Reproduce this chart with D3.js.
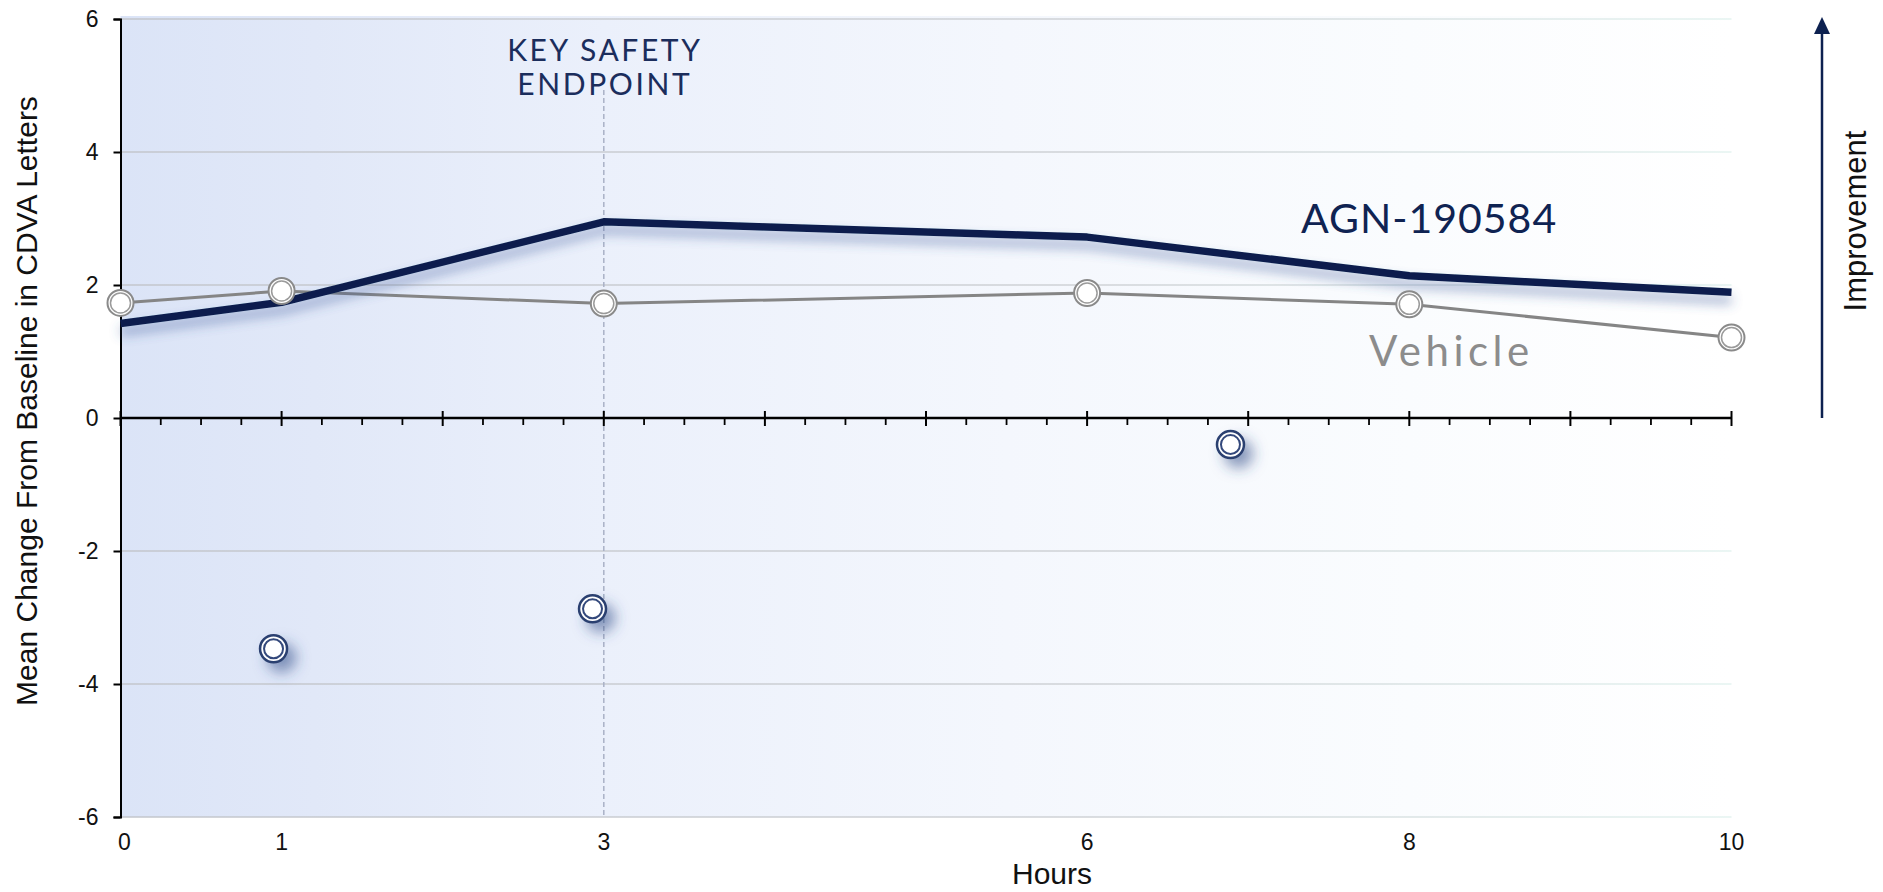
<!DOCTYPE html>
<html>
<head>
<meta charset="utf-8">
<script src="https://cdn.jsdelivr.net/npm/d3@7"></script>
<style>
  html, body { margin: 0; padding: 0; background: #ffffff; }
  svg { display: block; }
  text { font-family: "Liberation Sans", Arial, sans-serif; }
</style>
</head>
<body>
<svg id="chart" width="1883" height="892"></svg>
<script>
// Mean change from baseline in CDVA letters by hour
const hours = [0, 1, 3, 6, 8, 10];
const agnValues = [1.42, 1.74, 2.95, 2.72, 2.14, 1.89];
const vehicleValues = [1.73, 1.91, 1.72, 1.88, 1.71, 1.21];

// isolated points plotted below the baseline
const extraHours = [0.95, 2.93, 6.89];
const extraValues = [-3.47, -2.87, -0.40];

const xTickLabels = [0, 1, 3, 6, 8, 10];
const yTickValues = [-6, -4, -2, 0, 2, 4, 6];
const endpointHour = 3;

const svg = d3.select("#chart");
const defs = svg.append("defs");

const x = d3.scaleLinear().domain([0, 10]).range([120.5, 1731.5]);
const y = d3.scaleLinear().domain([-6, 6]).range([817, 19]);

// plot background gradient
const bg = defs.append("linearGradient").attr("id", "bgGrad")
  .attr("x1", "0%").attr("x2", "100%").attr("y1", "0%").attr("y2", "0%");
[["0%", "#dbe4f7"], ["12%", "#e1e8f8"], ["30%", "#ebf0fb"], ["55%", "#f4f7fd"], ["80%", "#fafcfe"], ["100%", "#ffffff"]]
  .forEach(([o, c]) => bg.append("stop").attr("offset", o).attr("stop-color", c));

const gridGrad = defs.append("linearGradient").attr("id", "gridGrad")
  .attr("gradientUnits", "userSpaceOnUse")
  .attr("x1", x(0)).attr("x2", x(10)).attr("y1", 0).attr("y2", 0);
[["0%", "#c3c6cc"], ["60%", "#cfd2d6"], ["100%", "#e4f3f0"]]
  .forEach(([o, c]) => gridGrad.append("stop").attr("offset", o).attr("stop-color", c));

// soft shadow under the main line
const lineShadow = defs.append("filter").attr("id", "lineShadow")
  .attr("x", "-5%").attr("y", "-50%").attr("width", "110%").attr("height", "200%");
lineShadow.append("feGaussianBlur").attr("in", "SourceAlpha").attr("stdDeviation", 6).attr("result", "b");
lineShadow.append("feOffset").attr("in", "b").attr("dy", 8).attr("result", "o");
lineShadow.append("feFlood").attr("flood-color", "#3c5a9a").attr("flood-opacity", 0.5);
lineShadow.append("feComposite").attr("in2", "o").attr("operator", "in").attr("result", "s");
const lm = lineShadow.append("feMerge");
lm.append("feMergeNode").attr("in", "s");
lm.append("feMergeNode").attr("in", "SourceGraphic");

const dotShadow = defs.append("filter").attr("id", "dotShadow")
  .attr("x", "-100%").attr("y", "-100%").attr("width", "300%").attr("height", "300%");
dotShadow.append("feGaussianBlur").attr("in", "SourceAlpha").attr("stdDeviation", 7).attr("result", "b");
dotShadow.append("feOffset").attr("in", "b").attr("dx", 8).attr("dy", 9).attr("result", "o");
dotShadow.append("feFlood").attr("flood-color", "#2e4a86").attr("flood-opacity", 0.55);
dotShadow.append("feComposite").attr("in2", "o").attr("operator", "in").attr("result", "s");
const dm = dotShadow.append("feMerge");
dm.append("feMergeNode").attr("in", "s");
dm.append("feMergeNode").attr("in", "SourceGraphic");

// plot area
svg.append("rect")
  .attr("x", x(0)).attr("y", y(6) - 3)
  .attr("width", x(10) - x(0)).attr("height", y(-6) - y(6) + 3)
  .attr("fill", "url(#bgGrad)");

// horizontal gridlines
svg.append("g").selectAll("line")
  .data(yTickValues.filter(v => v !== 0))
  .join("line")
  .attr("x1", x(0)).attr("x2", x(10))
  .attr("y1", d => y(d)).attr("y2", d => y(d))
  .attr("stroke", "url(#gridGrad)").attr("stroke-width", 1.5);

// key safety endpoint marker
svg.append("line")
  .attr("x1", x(endpointHour)).attr("x2", x(endpointHour))
  .attr("y1", 90).attr("y2", y(-6))
  .attr("stroke", "#a9b1c6").attr("stroke-width", 1.5)
  .attr("stroke-dasharray", "5,3");

const endpointStyle = sel => sel
  .attr("text-anchor", "middle")
  .attr("fill", "#1b2d5c").attr("font-size", 30)
  .attr("letter-spacing", 2.6)
  .style("font-family", "Lato, 'Open Sans', sans-serif");
svg.append("text").attr("x", x(endpointHour) + 1).attr("y", 61)
  .call(endpointStyle).text("KEY SAFETY");
svg.append("text").attr("x", x(endpointHour) + 1).attr("y", 95)
  .call(endpointStyle).text("ENDPOINT");

// y axis
const yAxis = d3.axisLeft(y).tickValues(yTickValues).tickSize(7).tickPadding(15)
  .tickFormat(d3.format("d"));
const gy = svg.append("g").attr("transform", `translate(${x(0)},0)`).call(yAxis);
gy.select(".domain").attr("stroke", "#000").attr("stroke-width", 2);
gy.selectAll(".tick line").attr("stroke", "#000").attr("stroke-width", 2);
gy.selectAll(".tick text").attr("font-size", 23).attr("fill", "#111")
  .style("font-family", "'Liberation Sans', Arial, sans-serif")
  .text(d => d < 0 ? "-" + Math.abs(d) : d);

// x axis drawn at zero: minor ticks each quarter hour, major ticks each hour
const minorTicks = d3.range(0, 40.5, 1).map(i => i / 4).filter(t => t % 1 !== 0);
const majorTicks = d3.range(0, 11, 1);
const gx = svg.append("g");
gx.append("line").attr("x1", x(0)).attr("x2", x(10))
  .attr("y1", y(0)).attr("y2", y(0))
  .attr("stroke", "#000").attr("stroke-width", 2.5);
gx.selectAll("line.minor").data(minorTicks).join("line").attr("class", "minor")
  .attr("x1", d => x(d)).attr("x2", d => x(d))
  .attr("y1", y(0)).attr("y2", y(0) + 7)
  .attr("stroke", "#000").attr("stroke-width", 1.8);
gx.selectAll("line.major").data(majorTicks).join("line").attr("class", "major")
  .attr("x1", d => x(d)).attr("x2", d => x(d))
  .attr("y1", y(0) - 7).attr("y2", y(0) + 8)
  .attr("stroke", "#000").attr("stroke-width", 2);

// hour labels along the bottom
svg.append("g").selectAll("text").data(xTickLabels).join("text")
  .attr("x", d => x(d) + (d === 0 ? 4 : 0)).attr("y", 850)
  .attr("text-anchor", "middle").attr("font-size", 23).attr("fill", "#111")
  .text(d => d);

// axis titles
svg.append("text")
  .attr("x", 1052).attr("y", 884)
  .attr("text-anchor", "middle").attr("font-size", 30).attr("fill", "#111")
  .text("Hours");

svg.append("text")
  .attr("transform", `translate(37,${(y(6) + y(-6)) / 2 - 17}) rotate(-90)`)
  .attr("text-anchor", "middle").attr("font-size", 30).attr("fill", "#111")
  .text("Mean Change From Baseline in CDVA Letters");

// improvement arrow
const arrowX = 1822;
svg.append("line")
  .attr("x1", arrowX).attr("x2", arrowX)
  .attr("y1", y(0)).attr("y2", 30)
  .attr("stroke", "#0d2150").attr("stroke-width", 2.5);
svg.append("path")
  .attr("d", d3.line()([[arrowX - 8, 34], [arrowX, 17], [arrowX + 8, 34]]) + "Z")
  .attr("fill", "#0d2150");
svg.append("text")
  .attr("transform", `translate(1866,${221}) rotate(-90)`)
  .attr("text-anchor", "middle").attr("font-size", 31).attr("fill", "#111")
  .text("Improvement");

// vehicle series
const line = d3.line().x(d => x(d[0])).y(d => y(d[1]));
const vehiclePts = hours.map((h, i) => [h, vehicleValues[i]]);
const agnPts = hours.map((h, i) => [h, agnValues[i]]);

svg.append("path").datum(vehiclePts)
  .attr("d", line).attr("fill", "none")
  .attr("stroke", "#858585").attr("stroke-width", 3);

// AGN-190584 series
svg.append("path").datum(agnPts)
  .attr("d", line).attr("fill", "none")
  .attr("stroke", "#0b1f4e").attr("stroke-width", 7.5)
  .attr("stroke-linejoin", "round")
  .attr("filter", "url(#lineShadow)");

// vehicle markers: white ring markers
const vm = svg.append("g").selectAll("g").data(vehiclePts).join("g")
  .attr("transform", d => `translate(${x(d[0])},${y(d[1])})`);
vm.append("circle").attr("r", 13).attr("fill", "#fff")
  .attr("stroke", "#8a8a8a").attr("stroke-width", 2);
vm.append("circle").attr("r", 10).attr("fill", "#fff")
  .attr("stroke", "#9a9a9a").attr("stroke-width", 1.5);

// isolated navy ring markers
const extraPts = extraHours.map((h, i) => [h, extraValues[i]]);
const em = svg.append("g").selectAll("g").data(extraPts).join("g")
  .attr("transform", d => `translate(${x(d[0])},${y(d[1])})`);
em.append("circle").attr("r", 13.5).attr("fill", "#fff")
  .attr("stroke", "#2b3f70").attr("stroke-width", 2.5)
  .attr("filter", "url(#dotShadow)");
em.append("circle").attr("r", 9.5).attr("fill", "#fff")
  .attr("stroke", "#34497c").attr("stroke-width", 2);

// series labels
svg.append("text")
  .attr("x", 1301).attr("y", 233)
  .attr("font-size", 41).attr("fill", "#0f2352")
  .style("font-family", "Lato, 'Open Sans', sans-serif")
  .attr("letter-spacing", 1)
  .text("AGN-190584");

svg.append("text")
  .attr("x", 1369).attr("y", 366)
  .attr("font-size", 42).attr("fill", "#8c8c8c")
  .style("font-family", "Lato, 'Open Sans', sans-serif")
  .attr("letter-spacing", 4.5)
  .text("Vehicle");
</script>
</body>
</html>
